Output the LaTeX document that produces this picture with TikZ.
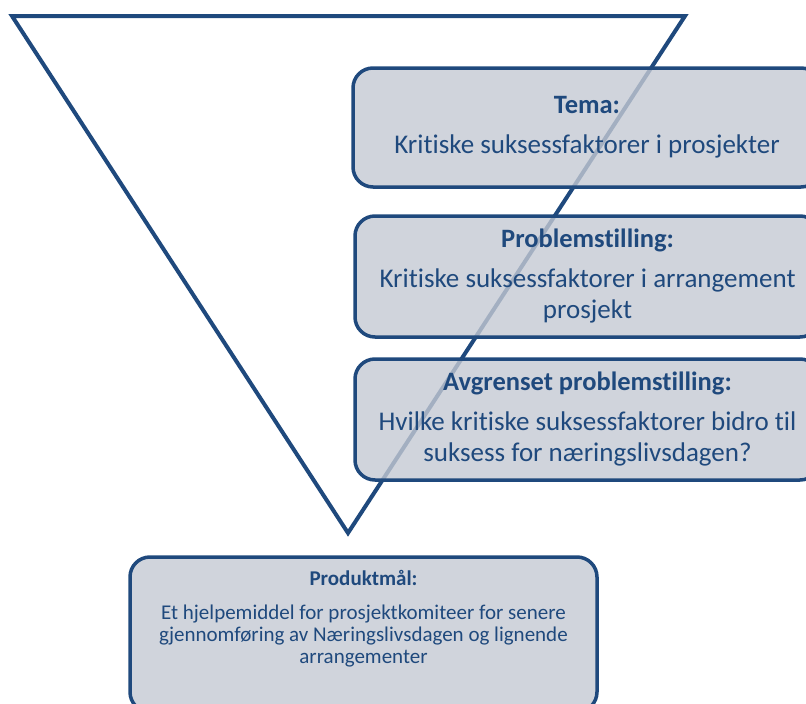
\documentclass[tikz,border=0pt]{standalone}
\usepackage{fontspec}
\setmainfont{Carlito}[Ligatures=NoCommon]
\definecolor{blaa}{HTML}{1F497D}
\definecolor{graa}{HTML}{C4C9D3}
\tikzset{
    trekant/.style={draw=blaa, line width=4pt, line join=miter},
    boks/.style={draw=blaa, line width=3.5pt, rounded corners=20pt, fill=graa, fill opacity=0.8, text opacity=1, text=blaa, align=center, font=\fontsize{27}{31}\selectfont},
    tekst/.style={text=blaa, align=center, inner sep=0pt, font=\fontsize{21}{22}\selectfont}
}
\newcommand{\tittel}[1]{{\fontsize{26.5}{31}\selectfont\bfseries #1}}

\begin{document}
\begin{tikzpicture}[x=1pt, y=-1pt]
        \useasboundingbox (0,0) rectangle (806,704);
        \draw[trekant] (12,16) -- (685,16) -- (348,533) -- cycle;

        \node[boks, minimum width=468pt, minimum height=119pt] (tema) at (587,127.5) {\tittel{Tema:}\\[9pt] Kritiske suksessfaktorer i prosjekter};
        \node[boks, minimum width=465pt, minimum height=121pt] (problem) at (587.5,276.5) {\tittel{Problemstilling:}\\[9pt] Kritiske suksessfaktorer i arrangement\\ prosjekt};
        \node[boks, minimum width=465pt, minimum height=121pt] (avgrenset) at (587.5,419.5) {\tittel{Avgrenset problemstilling:}\\[9pt] Hvilke kritiske suksessfaktorer bidro til\\ suksess for næringslivsdagen?};
        \node[boks, minimum width=467pt, minimum height=155pt] (produkt) at (363.5,634.5) {};
        \node[tekst, anchor=north] (produkttekst) at (363.5,570) {\textbf{Produktmål:}\\[12pt] Et hjelpemiddel for prosjektkomiteer for senere\\ gjennomføring av Næringslivsdagen og lignende\\ arrangementer};
    \end{tikzpicture}
\end{document}
